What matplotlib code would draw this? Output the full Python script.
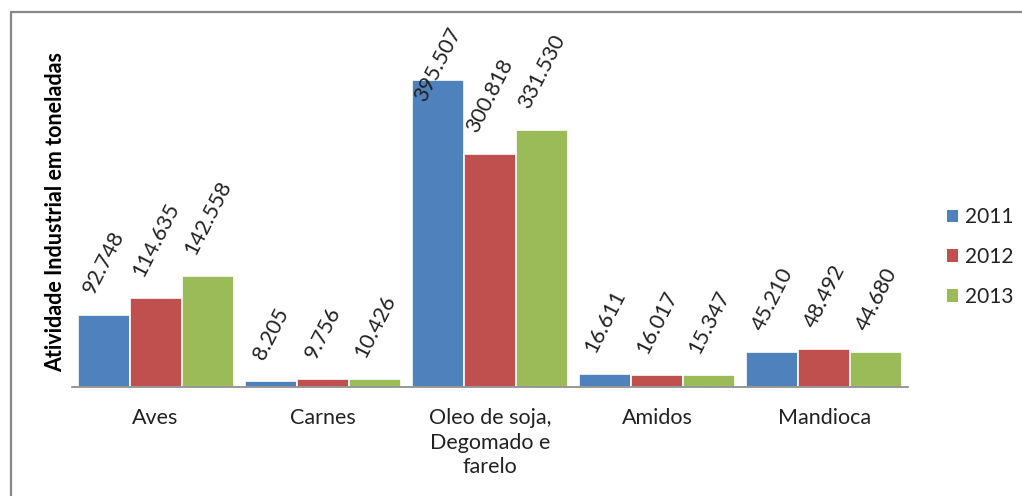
import matplotlib
matplotlib.use("Agg")
import matplotlib.pyplot as plt
from matplotlib.patches import Rectangle, Patch
import numpy as np

plt.rcParams['font.family'] = ['Lato', 'DejaVu Sans']

categories = ["Aves", "Carnes", "Oleo de soja,\nDegomado e\nfarelo", "Amidos", "Mandioca"]
years = ["2011", "2012", "2013"]
v2011 = [92748, 8205, 395507, 16611, 45210]
v2012 = [114635, 9756, 300818, 16017, 48492]
v2013 = [142558, 10426, 331530, 15347, 44680]
label2011 = ["92.748", "8.205", "395.507", "16.611", "45.210"]
label2012 = ["114.635", "9.756", "300.818", "16.017", "48.492"]
label2013 = ["142.558", "10.426", "331.530", "15.347", "44.680"]
colors = ["#4F81BD", "#C0504D", "#9BBB59"]
ylabel = "Atividade Industrial em toneladas"

W, H = 1022, 496
fig = plt.figure(figsize=(W / 100, H / 100), dpi=100)
ax = fig.add_axes([72 / W, 1 - 387 / H, (908 - 72) / W, (387 - 30) / H])

series = [v2011, v2012, v2013]
labels = [label2011, label2012, label2013]
x = np.arange(len(categories))
bw = 0.311
texts = []
for i, (vals, labs, col) in enumerate(zip(series, labels, colors)):
    xs = x + (i - 1) * bw
    ax.bar(xs, vals, width=bw, color=col, edgecolor="white", linewidth=1.2, label=years[i], zorder=2)
    for xx, v, lab in zip(xs, vals, labs):
        t = ax.annotate(lab, (xx, v), xytext=(0, 13), textcoords="offset points",
                        ha="center", va="bottom", rotation=63, fontsize=15.5, color="#222222")
        texts.append(t)

ax.set_xlim(-0.5, len(categories) - 0.5)
ax.set_ylim(0, 460000)
for s in ["top", "right", "left"]:
    ax.spines[s].set_visible(False)
ax.spines["bottom"].set_color("#868686")
ax.spines["bottom"].set_linewidth(1.2)
ax.set_yticks([])
ax.set_xticks(x)
ax.set_xticklabels(categories, fontsize=15.5, color="#222222", linespacing=1.3)
ax.tick_params(axis="x", length=0, pad=15)
ax.patch.set_alpha(0)

fig.text(56 / W, 1 - 212 / H, ylabel, rotation=90, ha="center", va="center",
         fontsize=15.5, fontweight="bold", color="black")

handles = [Patch(facecolor=c, edgecolor="none") for c in colors]
fig.legend(handles, years, loc="center left", bbox_to_anchor=(947 / W, 1 - 257 / H),
           frameon=False, fontsize=15, handlelength=0.55, handleheight=0.55,
           handletextpad=0.3, labelspacing=0.95, borderpad=0, borderaxespad=0,
           labelcolor="#222222")

fig.add_artist(Rectangle((11 / W, -0.1), 1.2, 1 - 12 / H + 0.1, transform=fig.transFigure,
                         fill=False, edgecolor="#888888", linewidth=1.6))

# keep data labels inside the chart area (as the spreadsheet does)
fig.canvas.draw()
r = fig.canvas.get_renderer()
limit = H - 24
for t in texts:
    bb = t.get_window_extent(r)
    if bb.y1 > limit:
        dx, dy = t.xyann
        t.xyann = (dx, dy - (bb.y1 - limit) * 72 / 100)

fig.savefig("out.png", dpi=100)
